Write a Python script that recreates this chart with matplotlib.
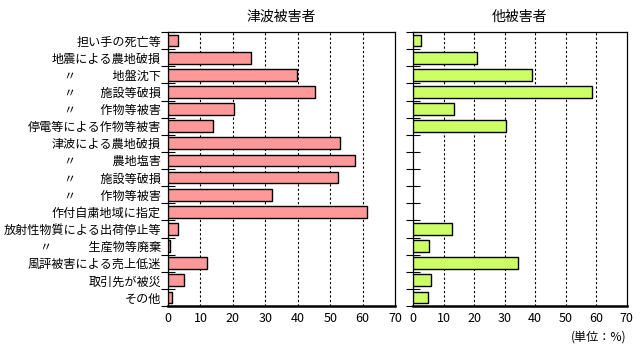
import matplotlib
matplotlib.use("Agg")
import matplotlib.pyplot as plt
import numpy as np

plt.rcParams['font.family'] = ['Noto Sans CJK JP', 'DejaVu Sans']

labels = [
    "担い手の死亡等",
    "地震による農地破損",
    "〃　　　地盤沈下",
    "〃　　施設等破損",
    "〃　　作物等被害",
    "停電等による作物等被害",
    "津波による農地破損",
    "〃　　　農地塩害",
    "〃　　施設等破損",
    "〃　　作物等被害",
    "作付自粛地域に指定",
    "放射性物質による出荷停止等",
    "〃　　　生産物等廃棄",
    "風評被害による売上低迷",
    "取引先が被災",
    "その他",
]
tsunami = [3.1, 25.6, 39.9, 45.3, 20.4, 13.9, 53.0, 57.7, 52.4, 32.1, 61.4, 3.1, 0.6, 12.0, 4.9, 1.2]
other = [2.6, 21.0, 39.0, 58.7, 13.5, 30.5, 0, 0, 0, 0, 0, 12.8, 5.2, 34.4, 5.9, 4.9]
titles = ["津波被害者", "他被害者"]
xticks = [0, 10, 20, 30, 40, 50, 60, 70]
colors = ["#FF9999", "#CCFF66"]

fig = plt.figure(figsize=(6.4, 3.5), dpi=100)
ax1 = fig.add_axes([168/640, 44/350, 227/640, 274/350])
ax2 = fig.add_axes([413/640, 44/350, 213.5/640, 274/350])

n = len(labels)
y = np.arange(n)
for ax, vals, col, title in [(ax1, tsunami, colors[0], titles[0]), (ax2, other, colors[1], titles[1])]:
    v = np.array(vals, dtype=float)
    mask = v > 0
    ax.barh(y[mask], v[mask], height=0.68, color=col, edgecolor="black", linewidth=1.0, zorder=3)
    ax.set_xlim(0, 70)
    ax.set_ylim(n - 0.5, -0.5)
    ax.set_xticks(xticks)
    ax.set_xticklabels([str(t) for t in xticks], fontsize=9)
    ax.tick_params(axis='x', length=0, pad=4)
    ax.set_yticks(np.arange(-0.5, n, 1.0), minor=True)
    ax.tick_params(axis='y', which='minor', length=10, direction='inout', width=0.8)
    ax.tick_params(axis='y', which='major', length=0)
    for gx in xticks[1:-1]:
        ax.axvline(gx, color="black", linestyle=(0, (2, 2)), linewidth=0.8, zorder=1)
    for s in ['top', 'right', 'left']:
        ax.spines[s].set_linewidth(0.9)
    ax.spines['bottom'].set_linewidth(1.8)
    ax.set_title(title, fontsize=10, pad=8)

ax1.set_yticks(y)
ax1.set_yticklabels(labels, fontsize=8.7)
ax1.tick_params(axis='y', which='major', pad=5)
ax2.set_yticks(y)
ax2.set_yticklabels([])

fig.text(626/640, 1 - 337/350, "(単位：%)", fontsize=8.7, ha='right', va='center')

fig.savefig("out.png", dpi=100)
